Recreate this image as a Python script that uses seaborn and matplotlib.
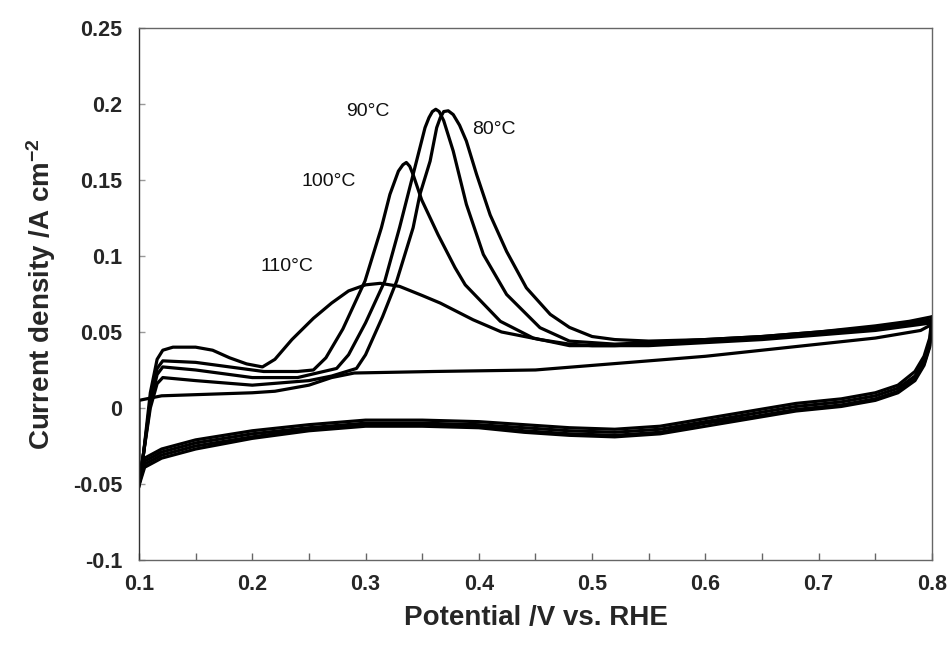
import numpy as np
import pandas as pd
import matplotlib
matplotlib.use("Agg")
import matplotlib.pyplot as plt
import seaborn as sns
from matplotlib.ticker import FixedLocator, FixedFormatter, MultipleLocator

# ---------------- data ----------------
temperatures = ["80°C", "90°C", "100°C", "110°C"]

# positive-going scans
fwd_80_v = [0.100, 0.104, 0.110, 0.116, 0.121, 0.150, 0.200, 0.250, 0.270, 0.292, 0.300, 0.315, 0.3275, 0.342,
            0.348, 0.357, 0.3628, 0.366, 0.369, 0.373, 0.3774, 0.383, 0.389, 0.398, 0.410, 0.4245, 0.442, 0.463,
            0.480, 0.500, 0.520, 0.550, 0.600, 0.650, 0.700, 0.750, 0.780, 0.800]
fwd_80_j = [-0.048, -0.030, 0.000, 0.016, 0.020, 0.018, 0.015, 0.018, 0.021, 0.026, 0.035, 0.060, 0.0835, 0.1186,
            0.1405, 0.1624, 0.1844, 0.191, 0.195, 0.1955, 0.193, 0.186, 0.1756, 0.1537, 0.127, 0.103, 0.079, 0.0616,
            0.053, 0.047, 0.045, 0.044, 0.045, 0.047, 0.050, 0.054, 0.057, 0.060]

fwd_90_v = [0.100, 0.104, 0.110, 0.116, 0.121, 0.150, 0.200, 0.240, 0.2745, 0.285, 0.300, 0.317, 0.330, 0.3375,
            0.345, 0.3525, 0.356, 0.359, 0.362, 0.365, 0.369, 0.3774, 0.389, 0.404, 0.4245, 0.454, 0.480, 0.520,
            0.550, 0.600, 0.650, 0.700, 0.750, 0.780, 0.800]
fwd_90_j = [-0.050, -0.030, 0.003, 0.022, 0.027, 0.025, 0.020, 0.020, 0.026, 0.035, 0.056, 0.0835, 0.1186, 0.1405,
            0.1624, 0.1844, 0.191, 0.195, 0.1965, 0.195, 0.189, 0.169, 0.134, 0.101, 0.0747, 0.0528, 0.044, 0.042,
            0.043, 0.045, 0.047, 0.050, 0.053, 0.056, 0.058]

fwd_100_v = [0.100, 0.104, 0.110, 0.116, 0.121, 0.150, 0.180, 0.210, 0.240, 0.254, 0.265, 0.280, 0.2995, 0.314,
             0.3215, 0.329, 0.333, 0.336, 0.339, 0.342, 0.3495, 0.364, 0.379, 0.388, 0.419, 0.448, 0.480, 0.520,
             0.550, 0.600, 0.650, 0.700, 0.750, 0.780, 0.800]
fwd_100_j = [-0.051, -0.030, 0.005, 0.026, 0.031, 0.030, 0.027, 0.024, 0.024, 0.025, 0.033, 0.052, 0.0835, 0.1186,
             0.1405, 0.1558, 0.160, 0.1615, 0.159, 0.1535, 0.137, 0.114, 0.0923, 0.081, 0.057, 0.046, 0.041, 0.041,
             0.042, 0.044, 0.046, 0.049, 0.052, 0.055, 0.057]

fwd_110_v = [0.100, 0.104, 0.110, 0.116, 0.121, 0.130, 0.150, 0.165, 0.180, 0.195, 0.209, 0.220, 0.235, 0.254,
             0.270, 0.285, 0.300, 0.313, 0.330, 0.350, 0.366, 0.395, 0.420, 0.454, 0.480, 0.500, 0.550, 0.600,
             0.650, 0.700, 0.750, 0.780, 0.800]
fwd_110_j = [-0.052, -0.030, 0.010, 0.032, 0.038, 0.040, 0.040, 0.038, 0.033, 0.029, 0.027, 0.032, 0.045, 0.059,
             0.069, 0.077, 0.081, 0.082, 0.080, 0.074, 0.069, 0.058, 0.050, 0.045, 0.042, 0.041, 0.041, 0.043,
             0.045, 0.048, 0.051, 0.054, 0.056]

# negative-going scans (shared potentials)
rev_v = [0.800, 0.798, 0.793, 0.785, 0.770, 0.750, 0.720, 0.680, 0.640, 0.600, 0.560, 0.520, 0.480, 0.440,
         0.400, 0.350, 0.300, 0.250, 0.200, 0.150, 0.120, 0.105, 0.100]
rev_80_j = [0.060, 0.046, 0.034, 0.024, 0.015, 0.010, 0.006, 0.003, -0.002, -0.007, -0.012, -0.014, -0.013,
            -0.011, -0.009, -0.008, -0.008, -0.011, -0.015, -0.021, -0.027, -0.033, -0.047]
rev_90_j = [0.058, 0.043, 0.031, 0.021, 0.013, 0.008, 0.004, 0.001, -0.004, -0.009, -0.014, -0.016, -0.015,
            -0.013, -0.011, -0.010, -0.010, -0.013, -0.017, -0.023, -0.029, -0.035, -0.049]
rev_100_j = [0.057, 0.041, 0.029, 0.019, 0.011, 0.006, 0.002, -0.001, -0.006, -0.010, -0.016, -0.018, -0.017,
             -0.015, -0.012, -0.011, -0.011, -0.014, -0.019, -0.025, -0.031, -0.037, -0.050]
rev_110_j = [0.056, 0.040, 0.028, 0.018, 0.010, 0.005, 0.001, -0.002, -0.007, -0.012, -0.017, -0.019, -0.018,
             -0.016, -0.013, -0.012, -0.012, -0.015, -0.020, -0.027, -0.033, -0.039, -0.051]

# low flat scan (no stripping peak)
flat_v = [0.100, 0.100, 0.120, 0.160, 0.200, 0.220, 0.250, 0.270, 0.290, 0.360, 0.450, 0.500, 0.550, 0.600,
          0.650, 0.700, 0.750, 0.790, 0.800]
flat_j = [-0.048, 0.005, 0.008, 0.009, 0.010, 0.011, 0.015, 0.020, 0.023, 0.024, 0.025, 0.028, 0.031, 0.034,
          0.038, 0.042, 0.046, 0.051, 0.055]

# labels
label_text = ["90°C", "80°C", "100°C", "110°C"]
label_v = [0.302, 0.4134, 0.2677, 0.231]
label_j = [0.1948, 0.183, 0.1488, 0.0928]

x_ticks = [0.1, 0.2, 0.3, 0.4, 0.5, 0.6, 0.7, 0.8]
x_tick_labels = ["0.1", "0.2", "0.3", "0.4", "0.5", "0.6", "0.7", "0.8"]
y_ticks = [-0.1, -0.05, 0.0, 0.05, 0.1, 0.15, 0.2, 0.25]
y_tick_labels = ["-0.1", "-0.05", "0", "0.05", "0.1", "0.15", "0.2", "0.25"]

# ---------------- build long table ----------------
rows = []
def add(curve, vs, js):
    for i, (v, j) in enumerate(zip(vs, js)):
        rows.append({"curve": curve, "order": i, "V": v, "j": j})

add("80f", fwd_80_v, fwd_80_j)
add("90f", fwd_90_v, fwd_90_j)
add("100f", fwd_100_v, fwd_100_j)
add("110f", fwd_110_v, fwd_110_j)
add("80r", rev_v, rev_80_j)
add("90r", rev_v, rev_90_j)
add("100r", rev_v, rev_100_j)
add("110r", rev_v, rev_110_j)
add("flat", flat_v, flat_j)
df = pd.DataFrame(rows)

# ---------------- style ----------------
sns.set_theme(style="white")
plt.rcParams["font.family"] = ["Liberation Sans", "DejaVu Sans"]
plt.rcParams["axes.unicode_minus"] = False
plt.rcParams["mathtext.fontset"] = "custom"
plt.rcParams["mathtext.rm"] = "Liberation Sans:bold"
plt.rcParams["mathtext.default"] = "rm"

fig = plt.figure(figsize=(9.5, 6.47), dpi=100)
ax = fig.add_axes([0.1463, 0.1345, 0.8347, 0.8223])

sns.lineplot(data=df, x="V", y="j", units="curve", estimator=None, sort=False,
             color="black", linewidth=2.3, ax=ax, legend=False)
for ln in ax.get_lines():
    ln.set_solid_joinstyle("round")

for t, v, j in zip(label_text, label_v, label_j):
    ax.text(v, j, t, ha="center", va="center", fontsize=14, color="#111111")

ax.set_xlim(0.1, 0.8)
ax.set_ylim(-0.1, 0.25)
ax.xaxis.set_major_locator(FixedLocator(x_ticks))
ax.xaxis.set_major_formatter(FixedFormatter(x_tick_labels))
ax.xaxis.set_minor_locator(MultipleLocator(0.05))
ax.yaxis.set_major_locator(FixedLocator(y_ticks))
ax.yaxis.set_major_formatter(FixedFormatter(y_tick_labels))

ax.tick_params(axis="x", which="both", direction="in", length=5, width=1, color="#666666",
               labelsize=15.5, pad=10, bottom=True, top=False)
ax.tick_params(axis="y", which="major", direction="in", length=4, width=1, color="#999999",
               labelsize=15.5, pad=12, left=True, right=False)
for lab in ax.get_xticklabels() + ax.get_yticklabels():
    lab.set_fontweight("bold")

for side, sp in ax.spines.items():
    sp.set_visible(True)
    sp.set_color("#666666")
    sp.set_linewidth(1.0)
ax.spines["left"].set_color("#333333")

ax.set_xlabel("Potential /V vs. RHE", fontsize=20, fontweight="bold", labelpad=7)
ax.set_ylabel(r"Current density /A cm$^{-2}$", fontsize=20, fontweight="bold", labelpad=11)

fig.savefig("out.png", dpi=100, facecolor="white")
